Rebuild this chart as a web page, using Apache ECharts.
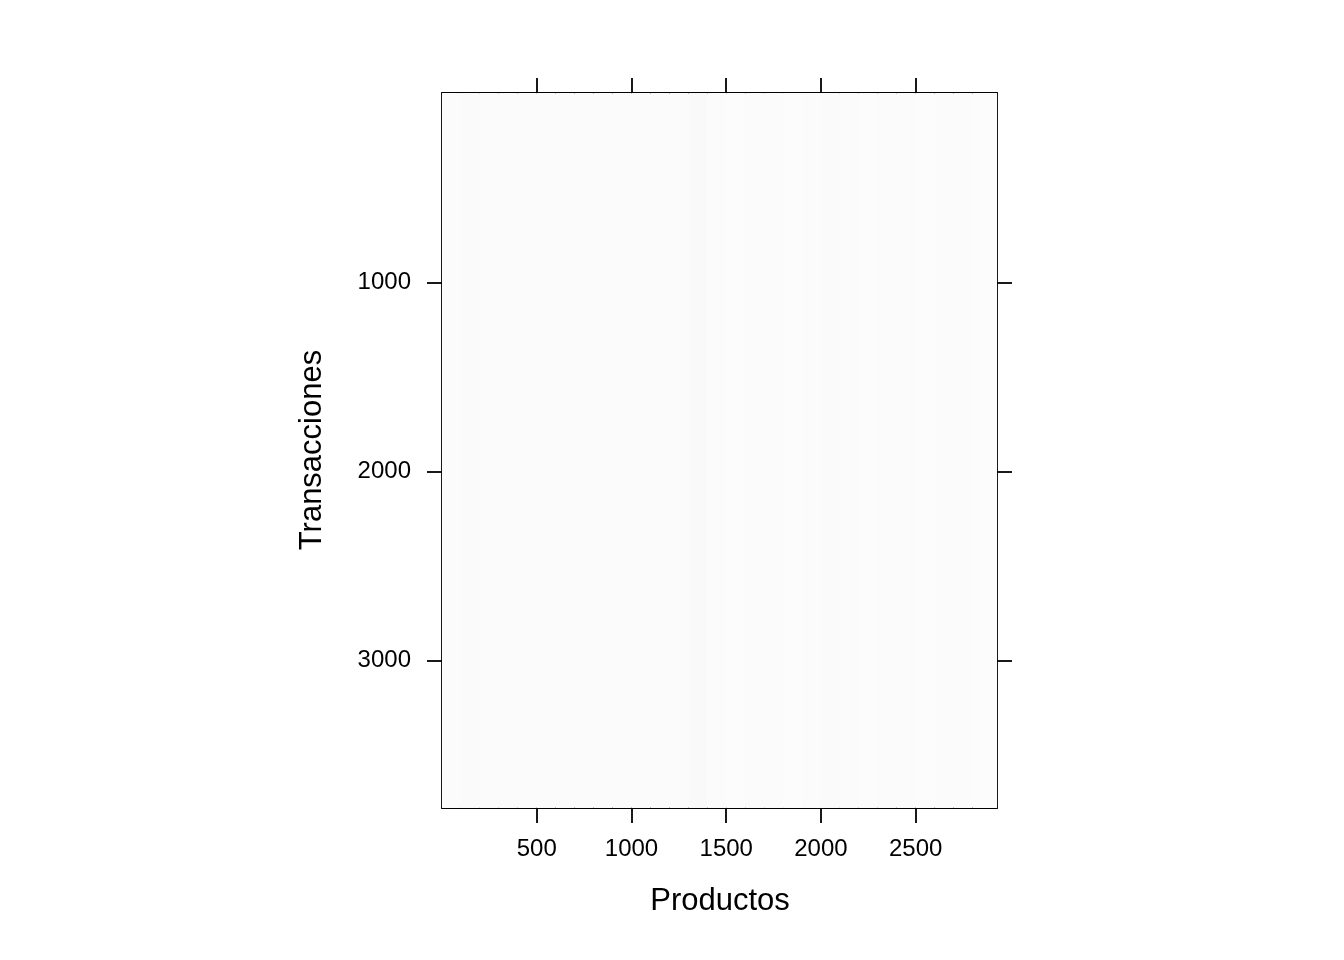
<!DOCTYPE html>
<html>
<head>
<meta charset="utf-8">
<script src="https://cdn.jsdelivr.net/npm/echarts@6/dist/echarts.min.js"></script>
<style>html,body{margin:0;padding:0;background:#fff}#c{width:1344px;height:960px}</style>
</head>
<body>
<div id="c"></div>
<script>
// Sparse transaction matrix (arules image): items on x, transactions on y
var nProducts = 2929;
var nTransactions = 3778;
var xTicks = [500, 1000, 1500, 2000, 2500];
var yTicks = [1000, 2000, 3000];
// Estimated relative density of filled cells per product band (width 100)
var bandStart = [0,100,200,300,400,500,600,700,800,900,1000,1100,1200,1300,1400,1500,1600,1700,1800,1900,2000,2100,2200,2300,2400,2500,2600,2700,2800];
var bandDensity = [0.55,0.6,0.55,0.55,0.5,0.5,0.55,0.5,0.5,0.45,0.5,0.45,0.5,0.8,0.45,0.4,0.45,0.45,0.4,0.45,0.6,0.45,0.4,0.45,0.45,0.4,0.45,0.45,0.4];

var bands = bandStart.map(function (s, i) {
  var e = (i === bandStart.length - 1) ? nProducts : bandStart[i + 1];
  return [s, e, bandDensity[i]];
});

var chart = echarts.init(document.getElementById('c'), null, {renderer: 'canvas'});
var lineStyle = {color: '#000', width: 1.8};
var font = 'Liberation Sans, Arial, Helvetica, sans-serif';
var plain = function (v) { return String(v); };

chart.setOption({
  animation: false,
  backgroundColor: '#fff',
  grid: {left: 442, right: 347, top: 93, bottom: 152},
  xAxis: [{
    type: 'value', min: 0, max: nProducts, position: 'bottom',
    axisLine: {show: true, onZero: false, lineStyle: lineStyle},
    axisTick: {show: true, inside: false, length: 15, lineStyle: lineStyle, customValues: xTicks},
    axisLabel: {show: true, margin: 29, fontSize: 24, color: '#000', fontFamily: font, customValues: xTicks, formatter: plain},
    splitLine: {show: false}
  }, {
    type: 'value', min: 0, max: nProducts, position: 'top',
    axisLine: {show: true, onZero: false, lineStyle: lineStyle},
    axisTick: {show: true, inside: false, length: 15, lineStyle: lineStyle, customValues: xTicks},
    axisLabel: {show: false},
    splitLine: {show: false}
  }],
  yAxis: [{
    type: 'value', min: 0, max: nTransactions, inverse: true, position: 'left',
    axisLine: {show: true, onZero: false, lineStyle: lineStyle},
    axisTick: {show: true, inside: false, length: 15, lineStyle: lineStyle, customValues: yTicks},
    axisLabel: {show: true, margin: 31, fontSize: 24, color: '#000', fontFamily: font, customValues: yTicks, formatter: plain},
    splitLine: {show: false}
  }, {
    type: 'value', min: 0, max: nTransactions, inverse: true, position: 'right',
    axisLine: {show: true, onZero: false, lineStyle: lineStyle},
    axisTick: {show: true, inside: false, length: 15, lineStyle: lineStyle, customValues: yTicks},
    axisLabel: {show: false},
    splitLine: {show: false}
  }],
  series: [{
    type: 'custom',
    xAxisIndex: 0, yAxisIndex: 0,
    data: bands,
    clip: true,
    renderItem: function (params, api) {
      var p0 = api.coord([api.value(0), 0]);
      var p1 = api.coord([api.value(1), nTransactions]);
      var v = api.value(2);
      var g = Math.round(254 - 6 * v);
      return {
        type: 'rect',
        shape: {x: p0[0], y: p0[1], width: p1[0] - p0[0], height: p1[1] - p0[1]},
        style: {fill: 'rgb(' + g + ',' + g + ',' + g + ')'}
      };
    },
    z: 1
  }],
  graphic: [{
    type: 'text', x: 720, y: 901,
    style: {text: 'Productos', fontSize: 31, fontFamily: font, fill: '#000', textAlign: 'center', textVerticalAlign: 'middle'}
  }, {
    type: 'text', x: 312, y: 450, rotation: Math.PI / 2,
    style: {text: 'Transacciones', fontSize: 31, fontFamily: font, fill: '#000', textAlign: 'center', textVerticalAlign: 'middle'}
  }]
});
</script>
</body>
</html>
